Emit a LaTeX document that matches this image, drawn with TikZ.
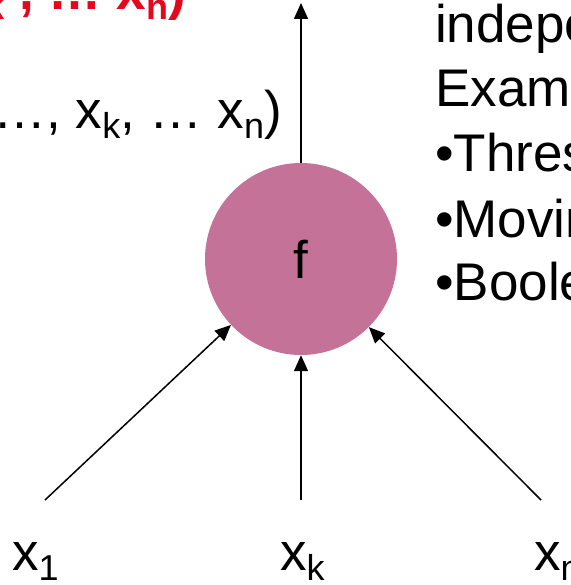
\documentclass[tikz,border=0pt]{standalone}
\usepackage{fontspec}
\setmainfont{Liberation Sans}
\usetikzlibrary{arrows.meta}
\newcommand{\subi}[1]{\raisebox{-10pt}{\fontsize{36}{36}\selectfont #1}}

\begin{document}
\begin{tikzpicture}[x=1pt, y=-1pt,
  every node/.style={inner sep=0pt, font=\fontsize{53}{64}\selectfont},
  flecha/.style={-{Triangle[length=16pt,width=14pt]}, line width=1.5pt}]

% Colores
\definecolor{rosaNodo}{RGB}{196,114,152}
\definecolor{rojoTexto}{RGB}{228,8,28}

\useasboundingbox (0,0) rectangle (570,585);
\clip (0,0) rectangle (570,585);

% Nodo de la funcion
\node[circle, fill=rosaNodo, minimum size=192pt] (f) at (301,259) {f};

% Entradas
\node[anchor=base west] (x1) at (12,570) {x\subi{1}};
\node[anchor=base west] (xk) at (280,570) {x\subi{k}};
\node[anchor=base west] (xn) at (534,570) {x\subi{n}};
\coordinate (e1) at (45,500);
\coordinate (ek) at (301,500);
\coordinate (en) at (541,500);
\coordinate (sal) at (301,3);

% Textos de arriba
\node[anchor=base east, text=rojoTexto, font=\fontsize{53}{64}\selectfont\bfseries] (fRojo) at (186,10)
  {f(x\subi{1}, …, x\subi{k} , … x\subi{n})};
\node[anchor=base east] (fNegro) at (282,129) {f(x\subi{1}, …, x\subi{k}, … x\subi{n})};

% Lista de la derecha
\node[anchor=base west] (t1) at (435,43) {independent};
\node[anchor=base west] (t2) at (435,107) {Examples:};
\node[anchor=base west] (t3) at (435,172) {•Threshold};
\node[anchor=base west] (t4) at (435,237) {•Moving average};
\node[anchor=base west] (t5) at (435,300) {•Boolean};

% Aristas
\draw[flecha] (e1) -- (f);
\draw[flecha] (ek) -- (f);
\draw[flecha] (en) -- (f);
\draw[flecha] (f) -- (sal);

\end{tikzpicture}
\end{document}
